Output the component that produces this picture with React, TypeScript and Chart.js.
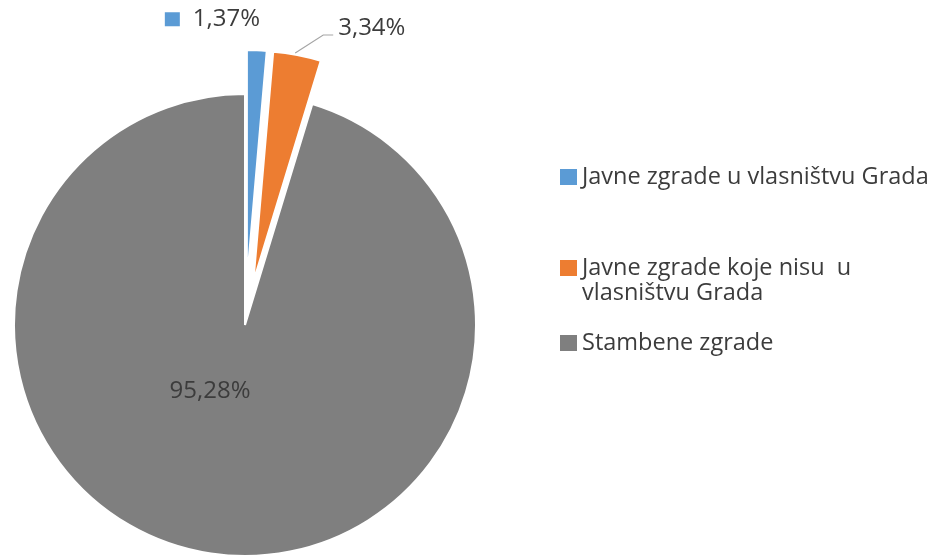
import React, { useEffect, useRef } from "react";
import { Chart, registerables } from "chart.js";

Chart.register(...registerables);

// ---- data ----
const categories: (string | string[])[] = [
  "Javne zgrade u vlasništvu Grada",
  ["Javne zgrade koje nisu  u", "vlasništvu Grada"],
  "Stambene zgrade",
];
const shares = [1.37, 3.34, 95.28];
const shareLabels = ["1,37%", "3,34%", "95,28%"];
const colors = ["#5B9BD5", "#ED7D31", "#7F7F7F"];
const explode = [44, 44, 0];

const FONT = '"Open Sans", "Noto Sans", sans-serif';
const TEXT = "#3C3C3C";

const midAngle = (arc: any) => {
  const p = arc.getProps(["startAngle", "endAngle"], true);
  return (p.startAngle + p.endAngle) / 2;
};

// draws exploded slices as pure translations (same radius)
const explodedPie = {
  id: "explodedPie",
  beforeDatasetDraw(chart: any, args: any) {
    const ctx: CanvasRenderingContext2D = chart.ctx;
    const arcs = args.meta.data as any[];
    arcs.forEach((arc, i) => {
      const mid = midAngle(arc);
      const d = explode[i] || 0;
      ctx.save();
      ctx.translate(Math.cos(mid) * d, Math.sin(mid) * d);
      arc.draw(ctx, chart.chartArea);
      ctx.restore();
    });
    return false;
  },
};

const pieLabels = {
  id: "pieLabels",
  afterDatasetsDraw(chart: any) {
    const ctx: CanvasRenderingContext2D = chart.ctx;
    const arcs = chart.getDatasetMeta(0).data as any[];
    const labels = chart.data.labels as (string | string[])[];
    const outerMid = (i: number) => {
      const p = arcs[i].getProps(["x", "y", "outerRadius"], true);
      const mid = midAngle(arcs[i]);
      const r = p.outerRadius + (explode[i] || 0);
      return { x: p.x + Math.cos(mid) * r, y: p.y + Math.sin(mid) * r, cx: p.x, cy: p.y };
    };
    ctx.save();
    ctx.font = `24px ${FONT}`;
    ctx.fillStyle = TEXT;
    ctx.textBaseline = "middle";
    ctx.textAlign = "left";

    // label 0: outside, with legend key
    const b = outerMid(0);
    const bx = b.x - 64;
    const by = b.y - 31;
    ctx.fillStyle = colors[0];
    ctx.fillRect(bx - 28, by - 7, 15, 14);
    ctx.fillStyle = TEXT;
    ctx.fillText(shareLabels[0], bx, by);

    // label 1: outside, with leader line
    const o = outerMid(1);
    ctx.strokeStyle = "#A5A5A5";
    ctx.lineWidth = 1.2;
    ctx.beginPath();
    ctx.moveTo(o.x - 2, o.y - 2);
    ctx.lineTo(o.x + 26, o.y - 20);
    ctx.lineTo(o.x + 36, o.y - 20);
    ctx.stroke();
    ctx.fillText(shareLabels[1], o.x + 41, o.y - 27);

    // label 2: inside
    const g = outerMid(2);
    ctx.textAlign = "center";
    ctx.fillText(shareLabels[2], g.cx - 35, g.cy + 66);

    // legend
    const lx = 560;
    const itemY = [177, 268, 343];
    ctx.font = `23.5px ${FONT}`;
    ctx.textAlign = "left";
    labels.forEach((lab, i) => {
      const lines = Array.isArray(lab) ? lab : [lab];
      ctx.fillStyle = colors[i];
      ctx.fillRect(lx, itemY[i] - 8, 17, 16);
      ctx.fillStyle = TEXT;
      lines.forEach((ln, k) => ctx.fillText(ln, lx + 22, itemY[i] + k * 25));
    });
    ctx.restore();
  },
};

export default function App() {
  const ref = useRef<HTMLCanvasElement>(null);
  useEffect(() => {
    if (!ref.current) return;
    const chart = new Chart(ref.current, {
      type: "pie",
      data: {
        labels: categories,
        datasets: [
          {
            data: shares,
            backgroundColor: colors,
            borderColor: "#FFFFFF",
            borderWidth: 2,
            clip: false,
          } as any,
        ],
      },
      options: {
        animation: false,
        responsive: false,
        radius: 231,
        layout: { padding: { left: 0, right: 450, top: 94, bottom: 0 } },
        plugins: {
          legend: { display: false },
          tooltip: { enabled: false },
        },
      } as any,
      plugins: [explodedPie, pieLabels],
    });
    return () => chart.destroy();
  }, []);
  return (
    <div
      style={{
        position: "fixed",
        left: 0,
        top: 0,
        width: 940,
        height: 556,
        overflow: "hidden",
        background: "#FFFFFF",
      }}
    >
      <canvas ref={ref} width={940} height={556} style={{ display: "block" }} />
    </div>
  );
}
